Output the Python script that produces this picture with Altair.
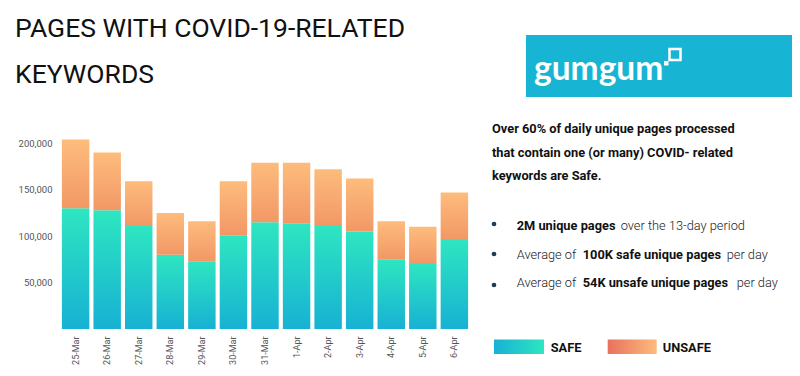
import altair as alt
import pandas as pd

days = ["25-Mar", "26-Mar", "27-Mar", "28-Mar", "29-Mar", "30-Mar", "31-Mar",
        "1-Apr", "2-Apr", "3-Apr", "4-Apr", "5-Apr", "6-Apr"]
safe_pages = [130000, 128000, 111000, 80000, 73000, 101000, 115000,
              114000, 112000, 105000, 75000, 71000, 97000]
unsafe_pages = [74000, 62000, 48000, 45000, 43000, 58000, 64000,
                65000, 60000, 57000, 41000, 39000, 50000]
y_ticks = [50000, 100000, 150000, 200000]

title_lines = ["PAGES WITH COVID-19-RELATED", "KEYWORDS"]
para_lines = ["Over 60% of daily unique pages processed",
              "that contain one (or many) COVID- related",
              "keywords are Safe."]
bullet_segments = [
    # (line, text, bold)
    (0, "2M unique pages", True), (0, "over the 13-day period", False),
    (1, "Average of", False), (1, "100K safe unique pages", True), (1, "per day", False),
    (2, "Average of", False), (2, "54K unsafe unique pages", True), (2, "per day", False),
]
legend_labels = ["SAFE", "UNSAFE"]

# layout (plot area origin at page (60,134))
seg_x = [456.7, 560.7, 456.7, 522.7, 666.7, 456.7, 522.7, 676.7]
line_y = [95.5, 124.5, 153]

df = pd.DataFrame({"day": days, "safe": safe_pages, "unsafe": unsafe_pages})
df["total"] = df["safe"] + df["unsafe"]

FONT = "Roboto"

safe_grad = alt.Gradient(gradient="linear",
                         stops=[alt.GradientStop(color="#17b1d4", offset=0),
                                alt.GradientStop(color="#2ee6c0", offset=1)],
                         x1=0, x2=0, y1=1, y2=0)
unsafe_grad = alt.Gradient(gradient="linear",
                           stops=[alt.GradientStop(color="#f29866", offset=0),
                                  alt.GradientStop(color="#fdbc7c", offset=1)],
                           x1=0, x2=0, y1=1, y2=0)
safe_leg = alt.Gradient(gradient="linear",
                        stops=[alt.GradientStop(color="#17b1d4", offset=0),
                               alt.GradientStop(color="#2ee6c0", offset=1)],
                        x1=0, x2=1, y1=0, y2=0)
unsafe_leg = alt.Gradient(gradient="linear",
                          stops=[alt.GradientStop(color="#e8715d", offset=0),
                                 alt.GradientStop(color="#fdbc7c", offset=1)],
                          x1=0, x2=1, y1=0, y2=0)

xscale = alt.Scale(paddingInner=0.13, paddingOuter=0.06)
yscale = alt.Scale(domain=[0, 210000])
xaxis = alt.Axis(labelAngle=270, ticks=False, domain=False, labelPadding=7,
                 labelFontSize=9, labelColor="#555", labelFont=FONT)
yaxis = alt.Axis(values=y_ticks, format=",d", domain=False, ticks=False,
                 grid=False, labelPadding=8, labelFontSize=9.5,
                 labelColor="#555", labelFont=FONT)

safe_bars = alt.Chart(df).mark_bar(color=safe_grad).encode(
    x=alt.X("day:N", sort=days, title=None, scale=xscale, axis=xaxis),
    y=alt.Y("safe:Q", scale=yscale, title=None, axis=yaxis),
)
unsafe_bars = alt.Chart(df).mark_bar(color=unsafe_grad).encode(
    x=alt.X("day:N", sort=days, title=None, scale=xscale, axis=xaxis),
    y=alt.Y("safe:Q", scale=yscale, title=None, axis=yaxis),
    y2="total:Q",
)

one = pd.DataFrame({"a": [0]})

title_df = pd.DataFrame({"t": title_lines, "y": [-97, -51]})
title = alt.Chart(title_df).mark_text(align="left", baseline="alphabetic", font=FONT,
                                      fontSize=26.5, color="#111").encode(
    x=alt.value(-45), y=alt.Y("y:Q", scale=None), text="t:N")

logo_rect = alt.Chart(one).mark_rect(color="#18b4d3").encode(
    x=alt.value(466), x2=alt.value(732), y=alt.value(-99), y2=alt.value(-37))
logo_text = alt.Chart(one).mark_text(text="gumgum", align="left", baseline="alphabetic",
                                     font="Lato", fontSize=33.5, fontWeight="bold",
                                     color="white").encode(
    x=alt.value(474), y=alt.value(-54))
logo_sq = alt.Chart(one).mark_rect(fill=None, stroke="white", strokeWidth=2.5).encode(
    x=alt.value(609.5), x2=alt.value(620.5), y=alt.value(-85), y2=alt.value(-74))
logo_dot = alt.Chart(one).mark_rect(color="white").encode(
    x=alt.value(604), x2=alt.value(608.5), y=alt.value(-73), y2=alt.value(-68.5))

para_df = pd.DataFrame({"t": para_lines, "y": [-1, 22.7, 46]})
para = alt.Chart(para_df).mark_text(align="left", baseline="alphabetic", font=FONT,
                                    fontSize=12.8, fontWeight="bold", color="#111").encode(
    x=alt.value(432), y=alt.Y("y:Q", scale=None), text="t:N")

dots_df = pd.DataFrame({"y": [90, 120, 151]})
dots = alt.Chart(dots_df).mark_circle(size=22, color="#1d3b57", opacity=1).encode(
    x=alt.value(434), y=alt.Y("y:Q", scale=None))

seg_df = pd.DataFrame({
    "t": [s[1] for s in bullet_segments],
    "bold": [s[2] for s in bullet_segments],
    "x": seg_x,
    "y": [line_y[s[0]] for s in bullet_segments],
})
seg_bold = alt.Chart(seg_df[seg_df.bold]).mark_text(
    align="left", baseline="alphabetic", font=FONT, fontSize=12.8,
    fontWeight="bold", color="#111").encode(
    x=alt.X("x:Q", scale=None), y=alt.Y("y:Q", scale=None), text="t:N")
seg_reg = alt.Chart(seg_df[~seg_df.bold]).mark_text(
    align="left", baseline="alphabetic", font=FONT, fontSize=12.8,
    fontWeight=300, color="#222").encode(
    x=alt.X("x:Q", scale=None), y=alt.Y("y:Q", scale=None), text="t:N")

leg_safe = alt.Chart(one).mark_rect(color=safe_leg).encode(
    x=alt.value(434), x2=alt.value(484), y=alt.value(205.5), y2=alt.value(220))
leg_unsafe = alt.Chart(one).mark_rect(color=unsafe_leg).encode(
    x=alt.value(547.7), x2=alt.value(596.7), y=alt.value(205.5), y2=alt.value(220))
leg_df = pd.DataFrame({"t": legend_labels, "x": [490.7, 602.7]})
leg_text = alt.Chart(leg_df).mark_text(align="left", baseline="alphabetic", font=FONT,
                                       fontSize=12.8, fontWeight="bold", color="#111").encode(
    x=alt.X("x:Q", scale=None), y=alt.value(217.5), text="t:N")

chart = alt.layer(
    safe_bars, unsafe_bars, title, logo_rect, logo_text, logo_sq, logo_dot,
    para, dots, seg_bold, seg_reg, leg_safe, leg_unsafe, leg_text
).properties(
    width=410, height=195,
    autosize=alt.AutoSizeParams(type="none"),
    padding={"left": 52, "top": 126, "right": 322, "bottom": 39},
).configure_view(stroke=None)

chart.save("out.html", embed_options={"renderer": "svg", "actions": False})
